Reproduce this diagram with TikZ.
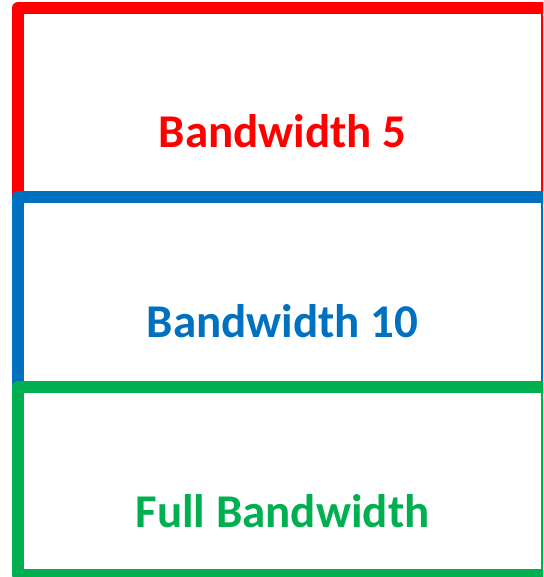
\documentclass[tikz,border=0pt]{standalone}
\usepackage{fontspec}
\setmainfont{Carlito}
\definecolor{bwred}{HTML}{FF0000}
\definecolor{bwblue}{HTML}{0070C0}
\definecolor{bwgreen}{HTML}{00B050}
\tikzset{
  band/.style={line width=12pt, line join=round},
  bandlabel/.style={anchor=base, inner sep=0pt, font=\fontsize{47}{56}\selectfont\bfseries}
}
\begin{document}
\begin{tikzpicture}[x=1pt, y=-1pt]
  \useasboundingbox (0,0) rectangle (543,577);
  \clip (0,0) rectangle (543,577);
  % three stacked bands, each drawn over the one above
  \draw[band, bwred]   (18,8)   rectangle (547,197);
  \draw[band, bwblue]  (18,197) rectangle (547,387);
  \draw[band, bwgreen] (18,387) rectangle (547,575);
  % labels
  \node[bandlabel, text=bwred]   (b5)   at (282.5,148) {Bandwidth 5};
  \node[bandlabel, text=bwblue]  (b10)  at (282.5,337) {Bandwidth 10};
  \node[bandlabel, text=bwgreen] (full) at (282.5,527) {Full Bandwidth};
\end{tikzpicture}
\end{document}
